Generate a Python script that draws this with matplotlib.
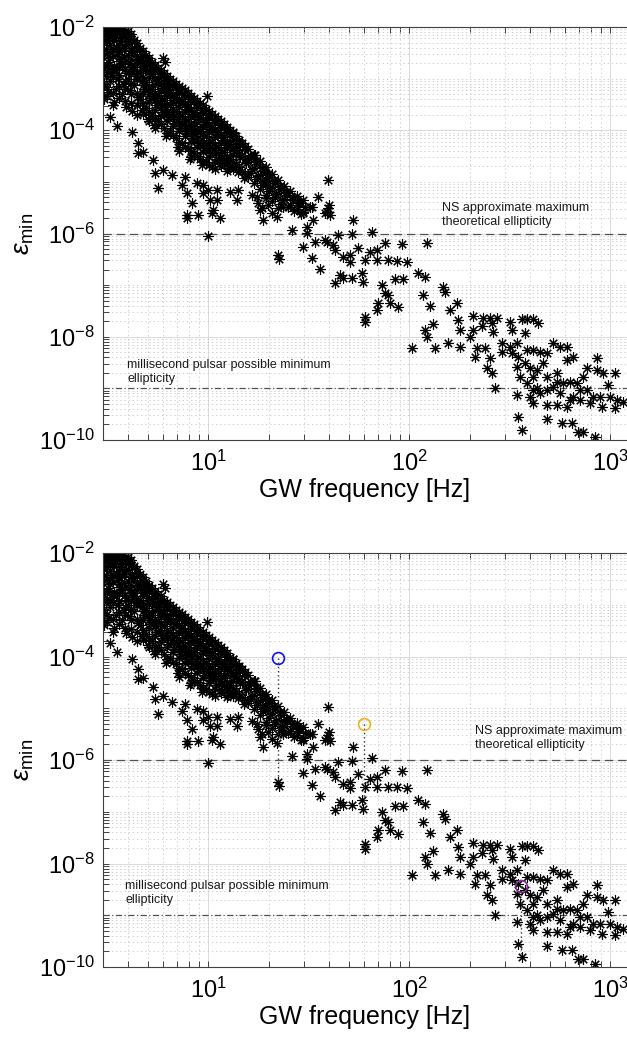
import numpy as np
import matplotlib
matplotlib.use("Agg")
from matplotlib import pyplot as plt
from matplotlib.ticker import FixedLocator, NullFormatter, FuncFormatter

plt.rcParams['font.family'] = ['Liberation Sans', 'DejaVu Sans']
plt.rcParams['mathtext.fontset'] = 'custom'
plt.rcParams['mathtext.rm'] = 'Liberation Sans'
plt.rcParams['mathtext.it'] = 'Liberation Sans:italic'
plt.rcParams['lines.scale_dashes'] = False

# pulsars as (log10 GW frequency [Hz], log10 minimum ellipticity)
young_band = [
    (0.48, -2.00), (0.49, -2.05), (0.48, -2.12), (0.50, -2.20), (0.48, -2.30), (0.49, -2.42), (0.48, -2.55),
    (0.50, -2.68), (0.48, -2.80), (0.49, -2.95), (0.48, -3.10), (0.50, -3.25), (0.48, -3.40),
    (0.51, -2.02), (0.52, -2.10), (0.51, -2.18), (0.53, -2.25), (0.51, -2.35), (0.52, -2.48), (0.51, -2.60),
    (0.53, -2.75), (0.52, -2.90), (0.51, -3.05),
    (0.54, -2.00), (0.55, -2.06), (0.54, -2.15), (0.56, -2.28), (0.54, -2.40), (0.55, -2.52), (0.56, -2.66),
    (0.54, -2.84), (0.55, -3.00), (0.54, -3.20), (0.53, -3.45),
    (0.57, -2.04), (0.58, -2.12), (0.57, -2.22), (0.59, -2.33), (0.57, -2.45), (0.58, -2.58), (0.57, -2.72),
    (0.59, -2.90), (0.58, -3.10), (0.57, -3.30),
    (0.60, -2.08), (0.61, -2.18), (0.60, -2.30), (0.62, -2.40), (0.60, -2.55), (0.61, -2.70), (0.62, -2.85),
    (0.60, -3.00), (0.61, -3.22), (0.59, -3.55),
    (0.63, -2.25), (0.64, -2.36), (0.63, -2.48), (0.65, -2.62), (0.63, -2.78), (0.64, -2.94), (0.63, -3.12),
    (0.65, -3.35), (0.62, -3.62),
    (0.66, -2.40), (0.67, -2.52), (0.66, -2.64), (0.68, -2.76), (0.66, -2.90), (0.67, -3.04), (0.68, -3.20),
    (0.66, -3.40), (0.67, -3.60),
    (0.69, -2.55), (0.70, -2.66), (0.69, -2.78), (0.71, -2.92), (0.69, -3.06), (0.70, -3.22), (0.71, -3.38),
    (0.69, -3.56), (0.70, -3.78),
    (0.72, -2.68), (0.73, -2.80), (0.72, -2.92), (0.74, -3.05), (0.72, -3.20), (0.73, -3.35), (0.74, -3.52),
    (0.72, -3.70), (0.73, -3.90),
    (0.75, -2.80), (0.76, -2.92), (0.75, -3.05), (0.77, -3.18), (0.75, -3.32), (0.76, -3.48), (0.77, -3.64),
    (0.75, -3.82),
    (0.78, -2.90), (0.79, -3.02), (0.78, -3.15), (0.80, -3.28), (0.78, -3.42), (0.79, -3.58), (0.80, -3.75),
    (0.78, -3.95), (0.79, -4.12),
    (0.81, -3.00), (0.82, -3.12), (0.81, -3.25), (0.83, -3.38), (0.81, -3.52), (0.82, -3.68), (0.83, -3.85),
    (0.81, -4.02),
    (0.84, -3.10), (0.85, -3.22), (0.84, -3.35), (0.86, -3.48), (0.84, -3.62), (0.85, -3.78), (0.86, -3.95),
    (0.84, -4.15), (0.85, -4.32),
    (0.87, -3.18), (0.88, -3.30), (0.87, -3.44), (0.89, -3.58), (0.87, -3.72), (0.88, -3.88), (0.89, -4.05),
    (0.87, -4.24),
    (0.90, -3.28), (0.91, -3.40), (0.90, -3.54), (0.92, -3.68), (0.90, -3.82), (0.91, -3.98), (0.92, -4.15),
    (0.90, -4.35), (0.91, -4.55),
    (0.93, -3.38), (0.94, -3.50), (0.93, -3.64), (0.95, -3.78), (0.93, -3.92), (0.94, -4.08), (0.95, -4.25),
    (0.93, -4.45),
    (0.96, -3.48), (0.97, -3.60), (0.96, -3.74), (0.98, -3.88), (0.96, -4.02), (0.97, -4.18), (0.98, -4.35),
    (0.96, -4.55), (0.97, -4.68),
    (0.99, -3.58), (1.00, -3.70), (0.99, -3.84), (1.01, -3.98), (0.99, -4.12), (1.00, -4.28), (1.01, -4.45),
    (0.99, -4.62),
    (1.02, -3.68), (1.03, -3.80), (1.02, -3.94), (1.04, -4.08), (1.02, -4.22), (1.03, -4.38), (1.04, -4.55),
    (1.02, -4.72),
    (1.05, -3.78), (1.06, -3.90), (1.05, -4.04), (1.07, -4.18), (1.05, -4.32), (1.06, -4.48), (1.07, -4.64),
    (1.08, -3.88), (1.09, -4.00), (1.08, -4.14), (1.10, -4.28), (1.08, -4.42), (1.09, -4.58), (1.10, -4.74),
    (1.11, -4.00), (1.12, -4.12), (1.11, -4.26), (1.13, -4.40), (1.11, -4.55), (1.12, -4.70),
    (1.14, -4.12), (1.15, -4.24), (1.14, -4.38), (1.16, -4.52), (1.14, -4.66), (1.15, -4.80),
    (1.17, -4.24), (1.18, -4.36), (1.17, -4.50), (1.19, -4.64), (1.17, -4.78), (1.18, -4.92),
    (1.20, -4.36), (1.21, -4.48), (1.20, -4.62), (1.22, -4.76), (1.20, -4.90),
    (1.23, -4.48), (1.24, -4.60), (1.23, -4.74), (1.25, -4.88), (1.23, -5.02),
    (1.26, -4.60), (1.27, -4.72), (1.26, -4.86), (1.28, -5.00), (1.26, -5.14),
    (1.29, -4.72), (1.30, -4.84), (1.29, -4.98), (1.31, -5.12), (1.29, -5.26),
    (1.32, -4.84), (1.33, -4.96), (1.32, -5.10), (1.34, -5.24), (1.32, -5.38),
    (1.35, -4.96), (1.36, -5.08), (1.35, -5.22), (1.37, -5.36), (1.35, -5.50),
    (1.38, -5.08), (1.39, -5.20), (1.38, -5.34), (1.40, -5.48),
    (1.41, -5.18), (1.42, -5.30), (1.41, -5.44), (1.43, -5.56),
    (1.44, -5.28), (1.45, -5.40), (1.44, -5.52), (1.46, -5.62),
    (1.47, -5.36), (1.48, -5.48), (1.47, -5.58),
]

# more of the same population, given per frequency column
young_fill = [
    (0.495, [-2.08, -2.27, -2.50, -2.73, -2.88, -3.17, -3.33]),
    (0.525, [-2.03, -2.22, -2.43, -2.56, -2.82, -2.97, -3.28, -3.52]),
    (0.555, [-2.11, -2.35, -2.47, -2.60, -2.78, -2.93, -3.14, -3.38]),
    (0.585, [-2.07, -2.17, -2.41, -2.66, -2.81, -3.04, -3.20, -3.44]),
    (0.615, [-2.13, -2.24, -2.47, -2.62, -2.77, -2.92, -3.08, -3.30, -3.47]),
    (0.645, [-2.31, -2.44, -2.57, -2.71, -2.86, -3.00, -3.27, -3.52, -3.70]),
    (0.675, [-2.46, -2.59, -2.70, -2.84, -2.97, -3.13, -3.30, -3.48, -3.68]),
    (0.705, [-2.61, -2.73, -2.86, -2.99, -3.14, -3.30, -3.45, -3.64, -3.82]),
    (0.735, [-2.74, -2.86, -2.98, -3.12, -3.27, -3.42, -3.60, -3.77, -3.95]),
    (0.765, [-2.84, -2.97, -3.10, -3.24, -3.38, -3.55, -3.72, -3.88]),
    (0.795, [-2.95, -3.08, -3.20, -3.34, -3.49, -3.65, -3.82, -4.05]),
    (0.825, [-3.05, -3.17, -3.30, -3.45, -3.59, -3.74, -3.92, -4.10]),
    (0.855, [-3.14, -3.27, -3.40, -3.54, -3.69, -3.85, -4.02, -4.22, -4.40]),
    (0.885, [-3.23, -3.36, -3.50, -3.64, -3.79, -3.95, -4.12, -4.32]),
    (0.915, [-3.33, -3.46, -3.60, -3.74, -3.89, -4.05, -4.22, -4.40, -4.52]),
    (0.945, [-3.43, -3.56, -3.70, -3.84, -3.99, -4.15, -4.32, -4.50]),
    (0.975, [-3.52, -3.66, -3.79, -3.93, -4.08, -4.24, -4.42, -4.60]),
    (1.005, [-3.62, -3.76, -3.90, -4.04, -4.19, -4.35, -4.52, -4.68]),
    (1.035, [-3.72, -3.86, -4.00, -4.14, -4.29, -4.44, -4.62, -4.76]),
    (1.065, [-3.82, -3.96, -4.10, -4.24, -4.38, -4.53, -4.70]),
    (1.095, [-3.93, -4.06, -4.20, -4.35, -4.50, -4.65, -4.78]),
    (1.125, [-4.05, -4.18, -4.32, -4.47, -4.61, -4.76]),
    (1.155, [-4.18, -4.44, -4.72]),
    (1.185, [-4.30, -4.56, -4.84]),
    (1.215, [-4.54, -4.82]),
    (1.245, [-4.66, -4.94]),
    (1.275, [-4.78, -5.06]),
    (1.305, [-4.90, -5.18]),
    (1.335, [-5.02, -5.30]),
    (1.365, [-5.14, -5.42]),
    (1.395, [-5.25]),
    (1.425, [-5.35]),
]

slow_outliers = [
    (0.786, -2.68), (0.776, -2.60), (0.995, -3.34), (0.512, -3.74), (0.547, -3.92), (0.622, -4.04),
    (0.652, -4.25), (0.652, -4.44), (0.677, -4.42), (0.726, -4.58), (0.736, -4.83), (0.776, -4.77),
    (0.751, -5.12), (0.821, -4.87), (0.871, -5.06), (0.886, -4.91), (0.896, -5.22), (0.920, -5.41),
    (0.896, -5.64), (0.896, -5.70), (0.950, -5.64), (0.945, -5.02), (0.975, -5.06), (0.975, -5.22),
    (1.000, -5.16), (1.010, -5.35), (1.045, -5.16), (1.045, -5.35), (1.025, -5.55), (1.020, -5.61),
    (1.060, -5.70), (1.000, -6.05), (1.109, -5.20), (1.149, -5.16), (1.144, -5.35), (1.124, -4.04),
    (1.159, -4.25), (1.234, -4.48), (1.284, -4.81), (1.284, -5.00), (1.244, -5.30), (1.274, -5.74),
    (1.343, -5.68), (1.393, -5.22), (1.373, -5.49), (1.418, -5.93), (1.448, -5.39), (1.473, -5.61),
    (1.22, -5.25), (1.25, -5.40), (1.27, -5.50), (1.30, -5.45), (1.32, -5.60), (1.26, -5.55), (1.29, -5.32),
    (1.348, -6.42), (1.353, -6.50),
]

mid_band = [
    (1.517, -5.49), (1.493, -5.88), (1.493, -5.99), (1.473, -6.26), (1.532, -6.17), (1.547, -5.30),
    (1.597, -4.97), (1.507, -5.49), (1.597, -5.51), (1.607, -5.64), (1.582, -5.61), (1.522, -5.74),
    (1.59, -5.58), (1.60, -5.45), (1.721, -5.74), (1.647, -6.03), (1.716, -6.01), (1.816, -5.97),
    (1.582, -6.13), (1.622, -6.23), (1.881, -6.19), (1.965, -6.21), (2.090, -6.19), (1.592, -6.17),
    (1.632, -6.32), (1.746, -6.28), (1.806, -6.36), (1.841, -6.32), (1.517, -6.48), (1.672, -6.46),
    (1.706, -6.42), (1.706, -6.55), (1.781, -6.52), (1.841, -6.52), (1.896, -6.52), (1.940, -6.53),
    (1.990, -6.55), (1.557, -6.69), (1.657, -6.81), (1.672, -6.86), (1.716, -6.86), (1.632, -6.96),
    (1.766, -6.77), (1.771, -6.94), (1.866, -7.00), (1.881, -7.16), (1.896, -7.19), (1.930, -6.88),
    (1.970, -6.88), (1.846, -7.35), (1.841, -7.49), (1.781, -7.62), (1.781, -7.72), (1.905, -7.35),
    (1.945, -7.43), (2.045, -6.77), (2.080, -6.85), (2.070, -7.19), (2.104, -7.41), (2.169, -7.04),
    (2.179, -7.14), (2.239, -7.35), (2.204, -7.49), (2.119, -7.76), (2.080, -7.87), (2.090, -8.01),
    (2.015, -8.22), (2.129, -8.22), (2.194, -8.12), (2.244, -7.68), (2.254, -7.87), (2.254, -8.20),
]

msp_cluster = [
    (2.318, -7.60), (2.368, -7.64), (2.403, -7.64), (2.438, -7.64), (2.363, -7.79), (2.413, -7.74),
    (2.418, -7.91), (2.303, -8.01), (2.318, -7.87), (2.338, -8.22), (2.328, -8.40), (2.378, -8.22),
    (2.403, -8.41), (2.388, -8.61), (2.413, -8.71), (2.428, -9.00), (2.463, -8.12), (2.463, -8.30),
    (2.502, -8.20), (2.537, -8.12), (2.502, -7.72), (2.512, -7.87), (2.562, -7.66), (2.587, -7.66),
    (2.617, -7.66), (2.642, -7.74), (2.577, -7.93), (2.512, -8.32), (2.542, -8.40), (2.587, -8.26),
    (2.617, -8.26), (2.652, -8.30), (2.687, -8.32), (2.716, -8.12), (2.751, -8.20), (2.786, -8.20),
    (2.816, -8.40), (2.786, -8.45), (2.537, -8.59), (2.577, -8.51), (2.602, -8.61), (2.637, -8.65),
    (2.667, -8.51), (2.617, -8.78), (2.552, -8.78), (2.587, -8.90), (2.637, -9.00), (2.687, -8.78),
    (2.736, -8.71), (2.736, -8.88), (2.766, -8.90), (2.801, -8.88), (2.836, -8.90), (2.866, -8.78),
    (2.886, -8.61), (2.935, -8.41), (2.935, -8.65), (2.965, -8.71), (3.025, -8.71), (2.990, -8.94),
    (2.886, -9.04), (2.851, -9.04), (2.816, -9.17), (2.751, -9.09), (2.716, -8.98), (2.687, -9.04),
    (2.652, -9.09), (2.617, -9.04), (2.602, -9.17), (2.617, -9.29), (2.687, -9.32), (2.736, -9.32),
    (2.786, -9.36), (2.801, -9.23), (2.851, -9.23), (2.900, -9.29), (2.915, -9.17), (2.950, -9.17),
    (3.000, -9.17), (3.035, -9.23), (3.065, -9.27), (3.025, -9.38), (2.960, -9.36), (2.537, -9.13),
    (2.542, -9.56), (2.562, -9.81), (2.687, -9.60), (2.761, -9.67), (2.811, -9.67), (2.841, -9.85),
    (2.866, -9.85), (2.925, -9.95),
]

# reference ellipticities
eps_ns_max = 1e-6
eps_msp_min = 1e-9

# highlighted sources in the lower panel
mark_logf = [1.348, 1.776, 2.557]
mark_log_eps = [-4.03, -5.31, -8.43]
mark_log_base = [-6.42, -6.94, -9.81]
mark_colors = ['#1010f0', '#edb120', '#7e2f8e']

pulsars = young_band + [(lf, le) for lf, col in young_fill for le in col] + slow_outliers + mid_band + msp_cluster
freq = 10 ** np.array([p[0] for p in pulsars])
eps = 10 ** np.array([p[1] for p in pulsars])

ns_label = "NS approximate maximum\ntheoretical ellipticity"
msp_label = "millisecond pulsar possible minimum\nellipticity"


def draw_panel(ax, ns_xy, msp_xy, marks=False):
    ax.set_xscale('log')
    ax.set_yscale('log')
    ax.set_xlim(3.0, 1215)
    ax.set_ylim(1e-10, 1e-2)

    ax.xaxis.set_major_locator(FixedLocator([10, 100, 1000]))
    ax.xaxis.set_minor_locator(FixedLocator([m * 10.0 ** k for k in range(0, 4) for m in range(2, 10)]))
    ax.yaxis.set_major_locator(FixedLocator([10.0 ** k for k in range(-10, -1, 2)]))
    ax.yaxis.set_minor_locator(FixedLocator([m * 10.0 ** k for k in range(-10, -2) for m in range(1, 10)
                                             if not (m == 1 and k % 2 == 0)]))
    fmt = FuncFormatter(lambda v, pos: r'$\mathdefault{10^{%d}}$' % round(np.log10(v)))
    ax.xaxis.set_major_formatter(fmt)
    ax.yaxis.set_major_formatter(fmt)
    ax.xaxis.set_minor_formatter(NullFormatter())
    ax.yaxis.set_minor_formatter(NullFormatter())

    ax.set_axisbelow(True)
    ax.grid(which='major', color='#dadada', lw=0.7, ls='-')
    ax.grid(which='minor', color='#c8c8c8', lw=0.6, ls=(0, (1, 2)))
    ax.tick_params(which='both', direction='in', length=4, width=0.6, top=True, right=False,
                   colors='#262626', labelcolor='black', labelsize=17)
    ax.tick_params(axis='x', pad=8)
    ax.tick_params(axis='y', pad=6)
    for side in ['left', 'top', 'bottom']:
        ax.spines[side].set_color('#404040')
        ax.spines[side].set_linewidth(0.8)
    ax.spines['right'].set_visible(False)

    ax.axhline(eps_ns_max, color='#505050', lw=0.9, ls=(0, (6, 3.5)), zorder=1.5)
    ax.axhline(eps_msp_min, color='#505050', lw=0.9, ls=(0, (4.5, 1.8, 0.8, 1.8)), zorder=1.5)

    ax.plot(freq, eps, linestyle='None', marker=(8, 2, 0), markersize=7.5, markeredgewidth=0.8, color='k')

    if marks:
        for lf, le, lb, c in zip(mark_logf, mark_log_eps, mark_log_base, mark_colors):
            ax.plot([10 ** lf, 10 ** lf], [10 ** le, 10 ** lb], color='#333333', lw=1.0, ls=(0, (1, 2)))
            ax.plot(10 ** lf, 10 ** le, marker='o', linestyle='None', markersize=8.5,
                    markerfacecolor='none', markeredgecolor=c, markeredgewidth=1.2)

    ax.text(ns_xy[0], ns_xy[1], ns_label, fontsize=9, ha='left', va='bottom', color='#1a1a1a')
    ax.text(msp_xy[0], msp_xy[1], msp_label, fontsize=9, ha='left', va='bottom', color='#1a1a1a')

    ax.set_xlabel('GW frequency [Hz]', fontsize=18, labelpad=1)
    ax.set_ylabel(r'$\epsilon_{\mathrm{min}}$', fontsize=19, labelpad=2)


fig = plt.figure(figsize=(6.27, 10.37), dpi=100)
ax1 = fig.add_axes([103 / 627, 597 / 1037, 524 / 627, 413 / 1037])
ax2 = fig.add_axes([103 / 627, 70 / 1037, 524 / 627, 414 / 1037])

draw_panel(ax1, (146, 1.3e-6), (3.95, 1.15e-9))
draw_panel(ax2, (213, 1.5e-6), (3.87, 1.5e-9), marks=True)

fig.savefig('out.png', dpi=100, facecolor='white')
